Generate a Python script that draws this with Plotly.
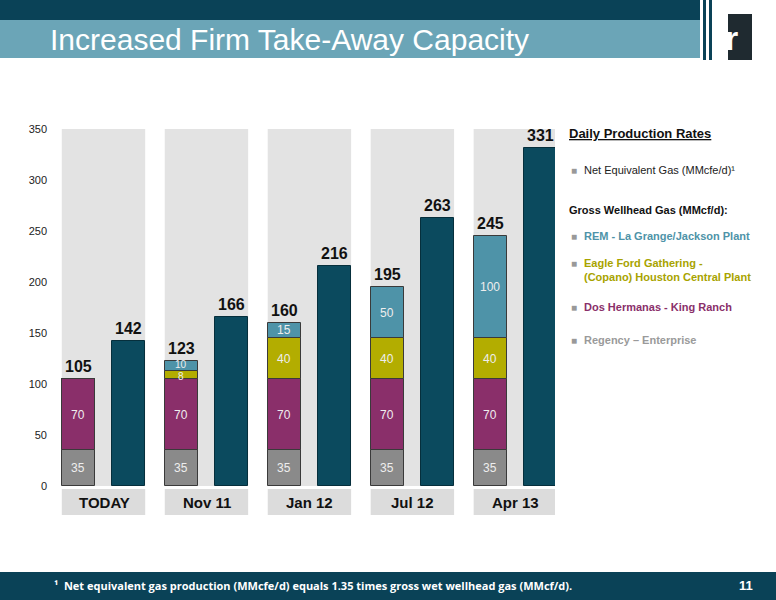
import plotly.graph_objects as go

categories = ["TODAY", "Nov 11", "Jan 12", "Jul 12", "Apr 13"]
regency = [35, 35, 35, 35, 35]
dos_hermanas = [70, 70, 70, 70, 70]
eagle_ford = [0, 8, 40, 40, 40]
rem = [0, 10, 15, 50, 100]
net_gas = [142, 166, 216, 263, 331]
gross_total = [a + b + c + d for a, b, c, d in zip(regency, dos_hermanas, eagle_ford, rem)]
yticks = [0, 50, 100, 150, 200, 250, 300, 350]

L, R, T, B = 48, 555, 129, 486
def px(x): return (x - L) / (R - L)
def py(y): return (B - y) / (B - T)

idx = list(range(len(categories)))
gx = [i - 0.25 for i in idx]
nx = [i + 0.24 for i in idx]
W = 0.32

fig = go.Figure()
series = [("Regency", regency, "#8a8a8a"), ("Dos Hermanas", dos_hermanas, "#8a2f6a"),
          ("Eagle Ford", eagle_ford, "#b3ad00"), ("REM", rem, "#4e93a8")]
ann = []
base = [0] * len(idx)
for name, vals, col in series:
    fig.add_trace(go.Bar(x=gx, y=vals, width=W, marker=dict(color=col, line=dict(color="#3a3a3a", width=1)),
                         showlegend=False, hoverinfo="skip", name=name))
    for i, v in enumerate(vals):
        if v:
            small = v < 12
            ann.append(dict(x=gx[i], y=base[i] + v / 2, xref="x", yref="y", text=str(v), showarrow=False,
                            yanchor="middle", yshift=(-2 if v < 9 else 1) if small else 0,
                            font=dict(size=10 if small else 12, color="#eeeeee", family="Arial")))
        base[i] += v
fig.add_trace(go.Bar(x=nx, y=net_gas, width=W, marker=dict(color="#0b4a5e", line=dict(color="#062f3c", width=1)),
                     showlegend=False, name="Net"))

shapes = []
for i in idx:
    shapes.append(dict(type="rect", xref="x", yref="y", x0=i - 0.41, x1=i + 0.40, y0=0, y1=352,
                       fillcolor="#e3e3e3", line=dict(width=0), layer="below"))
shapes += [
    dict(type="rect", xref="paper", yref="paper", x0=px(0), x1=px(700), y0=py(0), y1=py(20),
         fillcolor="#0a4257", line=dict(width=0)),
    dict(type="rect", xref="paper", yref="paper", x0=px(0), x1=px(700), y0=py(20), y1=py(58),
         fillcolor="#6ba5b7", line=dict(width=0)),
    dict(type="rect", xref="paper", yref="paper", x0=px(0), x1=px(776), y0=py(572), y1=py(600),
         fillcolor="#0a4257", line=dict(width=0)),
    dict(type="rect", xref="paper", yref="paper", x0=px(703), x1=px(706), y0=py(0), y1=py(60),
         fillcolor="#0a4257", line=dict(width=0)),
    dict(type="rect", xref="paper", yref="paper", x0=px(709), x1=px(712), y0=py(0), y1=py(60),
         fillcolor="#0a4257", line=dict(width=0)),
    dict(type="rect", xref="paper", yref="paper", x0=px(728), x1=px(752), y0=py(14), y1=py(60),
         fillcolor="#1f2a30", line=dict(width=0)),
]
for i, c in enumerate(categories):
    shapes.append(dict(type="rect", xref="x", yref="paper", x0=i - 0.41, x1=i + 0.40, y0=py(515), y1=py(489),
                       fillcolor="#dcdcdc", line=dict(width=0)))

for i, c in enumerate(categories):
    ann.append(dict(x=i, y=py(502), xref="x", yref="paper", text=f"<b>{c}</b>", showarrow=False,
                    yanchor="middle", font=dict(size=15, color="#111", family="Arial")))
    ann.append(dict(x=gx[i], y=gross_total[i], xref="x", yref="y", text=f"<b>{gross_total[i]}</b>",
                    showarrow=False, yanchor="bottom", yshift=2, font=dict(size=16, color="#111", family="Arial")))
    ann.append(dict(x=nx[i], y=net_gas[i], xref="x", yref="y", text=f"<b>{net_gas[i]}</b>",
                    showarrow=False, yanchor="bottom", yshift=2, font=dict(size=16, color="#111", family="Arial")))

ann.append(dict(x=px(48), y=py(39), xref="paper", yref="paper", text="Increased Firm Take-Away Capacity",
                showarrow=False, xanchor="left", yanchor="middle", font=dict(size=30, color="white", family="Arial")))
ann.append(dict(x=px(740), y=py(38), xref="paper", yref="paper", text="<b>r</b>", showarrow=False,
                yanchor="middle", font=dict(size=34, color="white", family="Arial")))
ann.append(dict(x=px(52), y=py(585), xref="paper", yref="paper",
                text="<b>¹  Net equivalent gas production (MMcfe/d) equals 1.35 times gross wet wellhead gas (MMcf/d).</b>",
                showarrow=False, xanchor="left", yanchor="middle", font=dict(size=11, color="white", family="Open Sans")))
ann.append(dict(x=px(755), y=py(585), xref="paper", yref="paper", text="<b>11</b>", showarrow=False,
                xanchor="right", yanchor="middle", font=dict(size=13, color="white", family="Arial")))

leg = [
    (567, 134, "<b><u>Daily Production Rates</u></b>", "#111", 13, False),
    (582, 170, "Net Equivalent Gas (MMcfe/d)¹", "#222", 11, True),
    (567, 210, "<b>Gross Wellhead Gas (MMcf/d):</b>", "#111", 11, False),
    (582, 236, "<b>REM - La Grange/Jackson Plant</b>", "#4e93a8", 11, True),
    (582, 270, "<b>Eagle Ford Gathering -<br>(Copano) Houston Central Plant</b>", "#a8a300", 11, True),
    (582, 307, "<b>Dos Hermanas - King Ranch</b>", "#8a2f6a", 11, True),
    (582, 340, "<b>Regency – Enterprise</b>", "#9a9a9a", 11, True),
]
for x, y, t, col, s, bullet in leg:
    ann.append(dict(x=px(x), y=py(y), xref="paper", yref="paper", text=t, showarrow=False, xanchor="left",
                    align="left", yanchor="middle", font=dict(size=s, color=col, family="Arial")))
    if bullet:
        first = y if "<br>" not in t else y - 7
        ann.append(dict(x=px(569), y=py(first), xref="paper", yref="paper", text="■", showarrow=False,
                        xanchor="left", yanchor="middle", font=dict(size=10, color="#999", family="Arial")))

fig.update_layout(
    width=776, height=600, barmode="relative", bargap=0,
    margin=dict(l=L, r=776 - R, t=T, b=600 - B),
    paper_bgcolor="white", plot_bgcolor="white",
    xaxis=dict(range=[-0.544, 4.38], showticklabels=False, showgrid=False, zeroline=False,
               showline=False, ticks=""),
    yaxis=dict(range=[0, 350], tickvals=yticks, showgrid=False, zeroline=False, showline=False,
               tickfont=dict(size=11, color="#222", family="Arial"), ticks="", ticklen=4),
    shapes=shapes, annotations=ann, font=dict(family="Arial"),
)
fig.write_html("out.html", config={"displayModeBar": False},
               post_script="document.body.style.margin='0';")
